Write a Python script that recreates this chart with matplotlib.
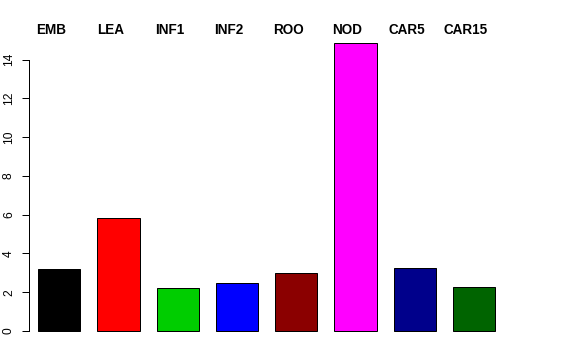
import matplotlib
matplotlib.use("Agg")
import matplotlib.pyplot as plt

# donnees
categories = ["EMB", "LEA", "INF1", "INF2", "ROO", "NOD", "CAR5", "CAR15"]
valeurs = [3.18, 5.81, 2.22, 2.49, 2.97, 14.83, 3.23, 2.28]
couleurs = ["#000000", "#FF0000", "#00CD00", "#0000FF",
            "#8B0000", "#FF00FF", "#00008B", "#006400"]
yticks = [0, 2, 4, 6, 8, 10, 12, 14]

plt.rcParams["font.family"] = ["Liberation Sans", "DejaVu Sans"]

fig = plt.figure(figsize=(8, 5), dpi=72)
# zone de trace facon R (pixels mesures sur la reference)
ax = fig.add_axes([29 / 576, 17.5 / 360, (513.5 - 29) / 576, (342.5 - 32) / 360 + 0.0])

# barplot(space = 0.4) : centres a 0.9 + 1.4 * i
centres = [0.9 + 1.4 * i for i in range(len(categories))]
ax.bar(centres, valeurs, width=1.0, color=couleurs, edgecolor="black", linewidth=1.0)

ax.set_xlim(0.184, 11.632)
ax.set_ylim(-0.593, 15.42)

for s in ["top", "right", "bottom"]:
    ax.spines[s].set_visible(False)
ax.spines["left"].set_bounds(0, 14)
ax.spines["left"].set_linewidth(1.0)

ax.set_xticks([])
ax.set_yticks(yticks)
ax.set_yticklabels([str(v) for v in yticks], rotation=90, va="center", fontsize=12)
ax.tick_params(axis="y", length=7, width=1.0, pad=7)

# noms des categories en haut
for x, nom in zip(centres, categories):
    ax.annotate(nom, xy=(x, 1.0), xycoords=("data", "figure fraction"),
                xytext=(-8, -30), textcoords="offset points",
                ha="center", va="center", fontsize=13.5, fontweight="bold")

fig.savefig("out.png", dpi=72)
